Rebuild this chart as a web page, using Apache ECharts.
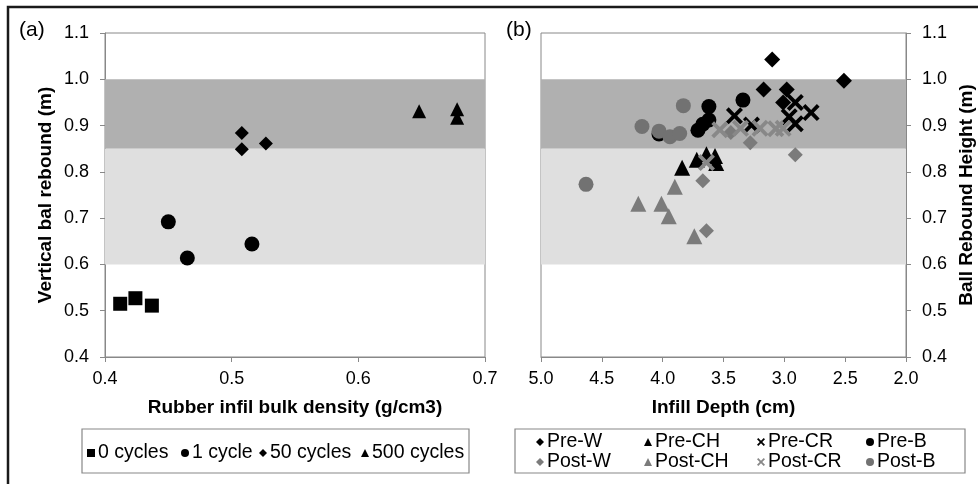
<!DOCTYPE html>
<html>
<head>
<meta charset="utf-8">
<script src="https://cdn.jsdelivr.net/npm/echarts@6/dist/echarts.min.js"></script>
<style>html,body{margin:0;padding:0;background:#fff;}#c{width:978px;height:484px;}</style>
</head>
<body>
<div id="c"></div>
<script>
// ---- Data: panel (a) ----
const cyc0X = [0.412, 0.424, 0.437];
const cyc0Y = [0.515, 0.527, 0.511];
const cyc1X = [0.450, 0.465, 0.516];
const cyc1Y = [0.692, 0.614, 0.644];
const cyc50X = [0.508, 0.508, 0.527];
const cyc50Y = [0.884, 0.849, 0.861];
const cyc500X = [0.648, 0.678, 0.678];
const cyc500Y = [0.931, 0.935, 0.917];
// ---- Data: panel (b) ----
const preWX = [3.10, 2.51, 3.17, 2.98, 3.01];
const preWY = [1.043, 0.997, 0.978, 0.978, 0.950];
const preCHX = [3.84, 3.72, 3.64, 3.57, 3.56];
const preCHY = [0.809, 0.826, 0.838, 0.834, 0.819];
const preCRX = [3.41, 3.27, 2.91, 2.78, 2.96, 2.91];
const preCRY = [0.921, 0.901, 0.950, 0.928, 0.919, 0.904];
const preBX = [3.62, 3.62, 3.67, 3.71, 3.34, 4.03];
const preBY = [0.941, 0.912, 0.903, 0.890, 0.955, 0.882];
const postWX = [3.44, 3.28, 2.91, 3.67, 3.64];
const postWY = [0.885, 0.863, 0.837, 0.781, 0.673];
const postCHX = [4.20, 4.01, 3.95, 3.90, 3.74];
const postCHY = [0.731, 0.731, 0.704, 0.768, 0.661];
const postCRX = [3.53, 3.36, 3.20, 3.07, 3.01, 3.64];
const postCRY = [0.891, 0.894, 0.894, 0.893, 0.894, 0.820];
const postBX = [3.83, 4.17, 4.03, 3.94, 3.86, 4.63];
const postBY = [0.943, 0.898, 0.888, 0.876, 0.883, 0.773];
// ---- Axis ticks / bands ----
const yTicks = [0.4, 1.1, 0.1];
const xTicksA = [0.4, 0.7, 0.1];
const xTicksB = [2.0, 5.0, 0.5];
const bandDark = [0.85, 1.0];
const bandLight = [0.6, 0.85];

const FONT = '"Liberation Sans", Arial, sans-serif';
const BLACK = '#000';
const GRAY = '#7b7b7b';
const GRAYX = '#888';
const XPATH = 'path://M0,1.6L1.6,0L5,3.4L8.4,0L10,1.6L6.6,5L10,8.4L8.4,10L5,6.6L1.6,10L0,8.4L3.4,5Z';
const zip = (xs, ys) => xs.map((x, i) => [x, ys[i]]);

function bandSeries(xi, yi) {
  return {
    type: 'scatter', xAxisIndex: xi, yAxisIndex: yi, data: [], z: 1, silent: true,
    markArea: {
      silent: true,
      data: [
        [{ yAxis: bandDark[0], itemStyle: { color: '#b0b0b0' } }, { yAxis: bandDark[1] }],
        [{ yAxis: bandLight[0], itemStyle: { color: '#dfdfdf' } }, { yAxis: bandLight[1] }]
      ]
    }
  };
}
function sc(name, xi, xs, ys, symbol, size, color) {
  return { name, type: 'scatter', xAxisIndex: xi, yAxisIndex: xi, data: zip(xs, ys),
    symbol, symbolSize: size, itemStyle: { color, opacity: 1 }, z: 3, emphasis: { disabled: true } };
}
function leg(name, left, top, icon) {
  return { data: [{ name, icon }], left, top, padding: 0, itemWidth: 8, itemHeight: 8, itemGap: 0,
    selectedMode: false, textStyle: { fontFamily: FONT, fontSize: 19.5, color: '#000', padding: [0, 0, 0, -2] } };
}
const axisCommon = {
  axisLine: { show: true, onZero: false, lineStyle: { color: '#888', width: 1 } },
  axisTick: { show: true, inside: false, length: 5, lineStyle: { color: '#888' } },
  splitLine: { show: false },
  nameTextStyle: { fontFamily: FONT, fontSize: 19, fontWeight: 'bold', color: '#000' }
};
const fmt = v => v.toFixed(1);
const lbl = (m) => ({ margin: m, fontFamily: FONT, fontSize: 18, color: '#000', formatter: fmt });

const option = {
  animation: false,
  backgroundColor: '#fff',
  grid: [
    { left: 105, top: 33, width: 380, height: 324, show: true, borderColor: '#888', borderWidth: 1, backgroundColor: 'transparent' },
    { left: 541, top: 33, width: 365, height: 324, show: true, borderColor: '#888', borderWidth: 1, backgroundColor: 'transparent' }
  ],
  xAxis: [
    Object.assign({}, axisCommon, { type: 'value', gridIndex: 0, min: xTicksA[0], max: xTicksA[1], interval: xTicksA[2],
      name: 'Rubber infil bulk density (g/cm3)', nameLocation: 'middle', nameGap: 41, axisLabel: lbl(13) }),
    Object.assign({}, axisCommon, { type: 'value', gridIndex: 1, min: xTicksB[0], max: xTicksB[1], interval: xTicksB[2], inverse: true,
      name: 'Infill Depth (cm)', nameLocation: 'middle', nameGap: 41, axisLabel: lbl(13) })
  ],
  yAxis: [
    Object.assign({}, axisCommon, { type: 'value', gridIndex: 0, min: yTicks[0], max: yTicks[1], interval: yTicks[2],
      name: 'Vertical bal rebound (m)', nameLocation: 'middle', nameGap: 50, nameRotate: 90, axisLabel: lbl(16) }),
    Object.assign({}, axisCommon, { type: 'value', gridIndex: 1, position: 'right', min: yTicks[0], max: yTicks[1], interval: yTicks[2],
      name: 'Ball Rebound Height (m)', nameLocation: 'middle', nameGap: 51, nameRotate: 90, axisLabel: lbl(16) })
  ],
  legend: [
    leg('0 cycles', 87, 443, 'rect'),
    leg('1 cycle', 181, 443, 'circle'),
    leg('50 cycles', 259, 443, 'diamond'),
    leg('500 cycles', 361, 443, 'triangle'),
    leg('Pre-W', 536, 432, 'diamond'),
    leg('Pre-CH', 644, 432, 'triangle'),
    leg('Pre-CR', 757, 432, XPATH),
    leg('Pre-B', 866, 432, 'circle'),
    leg('Post-W', 536, 452, 'diamond'),
    leg('Post-CH', 644, 452, 'triangle'),
    leg('Post-CR', 757, 452, XPATH),
    leg('Post-B', 866, 452, 'circle')
  ],
  graphic: [
    { type: 'rect', shape: { x: 8, y: 7, width: 1000, height: 520 }, style: { fill: 'none', stroke: '#1a1a1a', lineWidth: 2.5 }, silent: true },
    { type: 'rect', shape: { x: 82, y: 429, width: 387, height: 44 }, style: { fill: 'none', stroke: '#888', lineWidth: 1.2 }, silent: true, z: -1 },
    { type: 'rect', shape: { x: 515, y: 429, width: 450, height: 44 }, style: { fill: 'none', stroke: '#888', lineWidth: 1.2 }, silent: true, z: -1 },
    { type: 'text', left: 19, top: 20, style: { text: '(a)', fontFamily: FONT, fontSize: 21, fill: '#000' } },
    { type: 'text', left: 506, top: 20, style: { text: '(b)', fontFamily: FONT, fontSize: 21, fill: '#000' } }
  ],
  series: [
    bandSeries(0, 0),
    bandSeries(1, 1),
    sc('0 cycles', 0, cyc0X, cyc0Y, 'rect', 14, BLACK),
    sc('1 cycle', 0, cyc1X, cyc1Y, 'circle', 15, BLACK),
    sc('50 cycles', 0, cyc50X, cyc50Y, 'diamond', 14, BLACK),
    sc('500 cycles', 0, cyc500X, cyc500Y, 'triangle', 14, BLACK),
    sc('Pre-W', 1, preWX, preWY, 'diamond', 16, BLACK),
    sc('Pre-CH', 1, preCHX, preCHY, 'triangle', 16, BLACK),
    sc('Pre-CR', 1, preCRX, preCRY, XPATH, 17, BLACK),
    sc('Pre-B', 1, preBX, preBY, 'circle', 15, BLACK),
    sc('Post-W', 1, postWX, postWY, 'diamond', 15, GRAY),
    sc('Post-CH', 1, postCHX, postCHY, 'triangle', 16, GRAY),
    sc('Post-CR', 1, postCRX, postCRY, XPATH, 17, GRAYX),
    sc('Post-B', 1, postBX, postBY, 'circle', 15, '#727272')
  ]
};
const chart = echarts.init(document.getElementById('c'), null, { renderer: 'canvas' });
chart.setOption(option);
</script>
</body>
</html>
